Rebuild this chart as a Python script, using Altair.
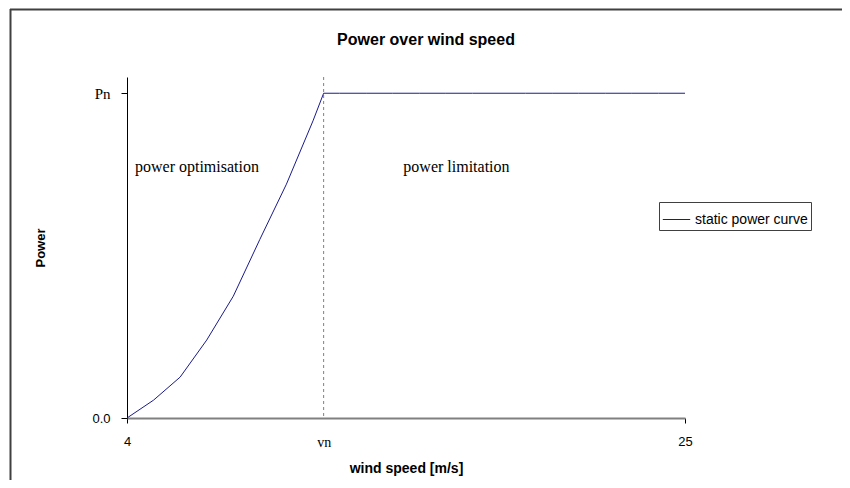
import altair as alt
import pandas as pd

# ---- data ----
wind_speed = [4, 5, 6, 7, 8, 9, 10, 11, 11.4, 12, 13, 14, 15, 16, 17, 18, 19, 20, 21, 22, 23, 24, 25]
power = [0.0, 0.055, 0.126, 0.24, 0.375, 0.55, 0.72, 0.915, 1.0, 1.0, 1.0, 1.0, 1.0, 1.0,
         1.0, 1.0, 1.0, 1.0, 1.0, 1.0, 1.0, 1.0, 1.0]
series_name = "static power curve"

rated_speed = [11.4]          # vn
x_tick_values = [4, 11.4, 25]
y_tick_values = [0, 1.0]      # 0.0 and Pn

note_text = ["power optimisation", "power limitation"]
note_x = [4.3, 14.4]
note_y = [0.772, 0.772]

chart_title = ["Power over wind speed"]

curve = pd.DataFrame({"v": wind_speed, "P": power, "series": [series_name] * len(wind_speed)})
vn_df = pd.DataFrame({"v": rated_speed})
notes = pd.DataFrame({"text": note_text, "v": note_x, "P": note_y})
title_df = pd.DataFrame({"text": chart_title})

SANS = "Liberation Sans"
SERIF = "Liberation Serif"

x_scale = alt.Scale(domain=[4, 25], nice=False, zero=False)
y_scale = alt.Scale(domain=[0, 1.05], nice=False)

x_axis = alt.Axis(
    title="wind speed  [m/s]", values=x_tick_values,
    labelExpr="datum.value == 11.4 ? 'vn' : format(datum.value, 'd')",
    labelFont={"condition": {"test": "datum.value == 11.4", "value": SERIF}, "value": SANS},
    labelFontSize={"condition": {"test": "datum.value == 11.4", "value": 14}, "value": 13},
    labelColor="black", labelPadding=12, labelFlush=False,
    tickColor={"condition": {"test": "datum.value == 11.4", "value": "transparent"}, "value": "#000000"},
    tickSize=5, domainColor="#808080", domainWidth=2, grid=False,
    titleFont=SANS, titleFontSize=14, titleFontWeight="bold", titleColor="black",
    titlePadding=12,
)
y_axis = alt.Axis(
    title="Power", values=y_tick_values,
    labelExpr="datum.value == 1 ? 'Pn' : format(datum.value, '.1f')",
    labelFont={"condition": {"test": "datum.value == 1", "value": SERIF}, "value": SANS},
    labelFontSize={"condition": {"test": "datum.value == 1", "value": 15}, "value": 13},
    labelColor="black", labelPadding=11, labelFlush=False,
    tickSize=6, tickColor="black", domainColor="black", domainWidth=1, grid=False,
    titleFont=SANS, titleFontSize=13, titleFontWeight="bold", titleColor="black",
    titlePadding=44,
)

line = alt.Chart(curve).mark_line(strokeWidth=1, clip=False).encode(
    x=alt.X("v:Q", scale=x_scale, axis=x_axis),
    y=alt.Y("P:Q", scale=y_scale, axis=y_axis),
    color=alt.Color("series:N", scale=alt.Scale(range=["#1a1a8c"]),
                    legend=alt.Legend(title=None, orient="none", legendX=532, legendY=125,
                                      strokeColor="#404040", padding=3, symbolType="stroke",
                                      symbolSize=750, symbolStrokeWidth=1,
                                      labelFont=SANS, labelFontSize=14, labelColor="black")),
)

vline = alt.Chart(vn_df).mark_rule(color="#808080", strokeDash=[3, 3], strokeWidth=1).encode(
    x=alt.X("v:Q", scale=x_scale)
)

text = alt.Chart(notes).mark_text(align="left", baseline="middle", font=SERIF, fontSize=16,
                                  color="black").encode(
    x=alt.X("v:Q", scale=x_scale), y=alt.Y("P:Q", scale=y_scale), text="text:N"
)

title_mark = alt.Chart(title_df).mark_text(align="center", baseline="middle", font=SANS,
                                           fontSize=16, fontWeight="bold", color="black").encode(
    x=alt.value(299), y=alt.value(-37), text="text:N"
)

frame_top = alt.Chart(vn_df).mark_rule(color="#404040", strokeWidth=2).encode(
    x=alt.value(-117), x2=alt.value(720), y=alt.value(-67.5)
)
frame_left = alt.Chart(vn_df).mark_rule(color="#404040", strokeWidth=2).encode(
    x=alt.value(-116.5), y=alt.value(-68), y2=alt.value(410)
)

chart = alt.layer(frame_top, frame_left, title_mark, vline, line, text).properties(
    width=558, height=341,
    autosize=alt.AutoSizeParams(type="none"),
    padding={"left": 119, "top": 69, "right": 157, "bottom": 62},
).configure_view(stroke=None)

chart.save("out.html", embed_options={"renderer": "svg", "actions": False})
